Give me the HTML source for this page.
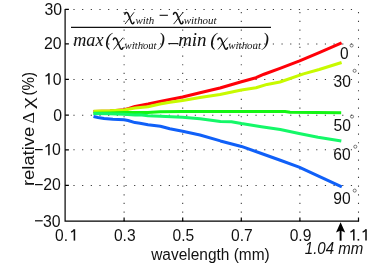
<!DOCTYPE html>
<html><head><meta charset="utf-8"><title>chart</title>
<style>
html,body{margin:0;padding:0;background:#fff;}
body{width:382px;height:267px;overflow:hidden;font-family:"Liberation Sans",sans-serif;}
svg{display:block;will-change:transform;}
text{font-family:"Liberation Sans",sans-serif;fill:#111;}
.t{font-size:16.7px;}
.ser{font-family:"Liberation Serif",serif;font-style:italic;}
</style></head><body>
<svg width="382" height="267" viewBox="0 0 382 267">
<rect width="382" height="267" fill="#fff"/>
<g stroke="#3a3a3a" stroke-width="1.05" stroke-dasharray="1.2 7.47" fill="none"><line x1="124.10" y1="221.40" x2="124.10" y2="9.00"/><line x1="182.70" y1="221.40" x2="182.70" y2="9.00"/><line x1="241.30" y1="221.40" x2="241.30" y2="9.00"/><line x1="299.90" y1="221.40" x2="299.90" y2="9.00"/><line x1="358.50" y1="221.40" x2="358.50" y2="9.00"/><line x1="73.40" y1="9.45" x2="359.50" y2="9.45"/><line x1="73.40" y1="43.90" x2="359.50" y2="43.90"/><line x1="73.40" y1="79.40" x2="359.50" y2="79.40"/><line x1="73.40" y1="115.15" x2="359.50" y2="115.15"/><line x1="73.40" y1="149.80" x2="359.50" y2="149.80"/><line x1="73.40" y1="185.40" x2="359.50" y2="185.40"/></g>
<path d="M93.5,111.5 L110.0,111.0 L124.0,109.8 L129.0,108.5 L135.0,106.4 L148.0,104.1 L160.0,101.6 L170.0,99.5 L182.6,97.1 L200.0,92.8 L220.0,88.0 L241.4,81.7 L256.0,77.7 L264.0,74.2 L280.0,68.4 L299.6,60.9 L319.2,52.6 L341.6,42.8" fill="none" stroke="#ff0008" stroke-width="3.05" stroke-linejoin="round" stroke-linecap="butt"/>
<path d="M93.5,111.2 L110.0,110.8 L124.0,109.9 L135.0,108.0 L148.0,106.8 L160.0,103.9 L170.0,102.3 L182.6,100.4 L200.0,97.6 L220.0,94.6 L241.4,89.9 L256.0,87.8 L267.0,84.4 L280.0,82.0 L303.5,73.9 L319.2,69.5 L341.6,62.5" fill="none" stroke="#c8fa00" stroke-width="3.05" stroke-linejoin="round" stroke-linecap="butt"/>
<path d="M93.5,113.3 L110.0,113.0 L124.0,112.6 L148.0,112.4 L160.0,111.7 L182.0,111.4 L241.0,111.5 L285.0,111.5 L290.0,112.3 L341.2,112.7" fill="none" stroke="#14f514" stroke-width="3.05" stroke-linejoin="round" stroke-linecap="butt"/>
<path d="M93.5,113.6 L110.0,113.8 L124.0,114.3 L135.0,115.0 L140.0,114.8 L148.0,115.8 L160.4,116.3 L182.6,117.2 L200.0,118.8 L220.4,121.5 L231.4,121.7 L241.4,123.6 L261.4,126.7 L280.3,129.4 L299.1,133.5 L318.0,137.3 L341.3,141.0" fill="none" stroke="#14f868" stroke-width="3.05" stroke-linejoin="round" stroke-linecap="butt"/>
<path d="M93.5,116.5 L98.0,117.5 L104.0,118.5 L113.0,119.2 L124.0,119.8 L128.0,120.5 L135.0,122.6 L140.0,123.3 L148.0,124.8 L160.4,126.3 L169.8,128.8 L182.6,131.2 L200.0,135.0 L220.4,140.9 L241.4,146.4 L261.4,153.5 L280.3,160.2 L299.1,167.1 L318.0,175.9 L341.8,186.8" fill="none" stroke="#1060f8" stroke-width="3.05" stroke-linejoin="round" stroke-linecap="butt"/>
<path d="M65.1,9.0 V221.1 H359.1" fill="none" stroke="#000" stroke-width="1.2"/>
<path d="M124.10,221.1 v-3.6 M182.70,221.1 v-3.6 M241.30,221.1 v-3.6 M299.90,221.1 v-3.6 M358.50,221.1 v-3.6 M65.1,9.45 h3.8 M65.1,43.90 h3.8 M65.1,79.40 h3.8 M65.1,115.15 h3.8 M65.1,149.80 h3.8 M65.1,185.40 h3.8" fill="none" stroke="#000" stroke-width="1.2"/>
<text class="t" x="62.0" y="14.9" text-anchor="end" textLength="17.6" lengthAdjust="spacingAndGlyphs">30</text>
<text class="t" x="61.6" y="49.3" text-anchor="end" textLength="17.6" lengthAdjust="spacingAndGlyphs">20</text>
<text class="t" x="61.6" y="84.6" text-anchor="end" textLength="8.8" lengthAdjust="spacingAndGlyphs">0</text><path d="M48.92,84.50 V73.20" stroke="#111" stroke-width="1.55" fill="none"/><path d="M48.80,73.55 Q47.70,75.30 45.50,76.10" stroke="#111" stroke-width="1.25" fill="none"/>
<text class="t" x="62.1" y="120.7" text-anchor="end" textLength="8.8" lengthAdjust="spacingAndGlyphs">0</text>
<text class="t" x="60.9" y="155.3" text-anchor="end" textLength="8.8" lengthAdjust="spacingAndGlyphs">0</text><path d="M48.92,155.20 V143.90" stroke="#111" stroke-width="1.55" fill="none"/><path d="M48.80,144.25 Q47.70,146.00 45.50,146.80" stroke="#111" stroke-width="1.25" fill="none"/><line x1="35" x2="42.7" y1="149.6" y2="149.6" stroke="#111" stroke-width="1.25"/>
<text class="t" x="60.9" y="190.3" text-anchor="end" textLength="17.6" lengthAdjust="spacingAndGlyphs">20</text><line x1="35" x2="42.7" y1="184.6" y2="184.6" stroke="#111" stroke-width="1.25"/>
<text class="t" x="60.6" y="226.5" text-anchor="end" textLength="17.6" lengthAdjust="spacingAndGlyphs">30</text><line x1="35" x2="42.7" y1="220.8" y2="220.8" stroke="#111" stroke-width="1.25"/>
<text class="t" x="113.9" y="240.7" textLength="21.7" lengthAdjust="spacingAndGlyphs">0.3</text>
<text class="t" x="172.5" y="240.7" textLength="21.7" lengthAdjust="spacingAndGlyphs">0.5</text>
<text class="t" x="231.1" y="240.7" textLength="21.7" lengthAdjust="spacingAndGlyphs">0.7</text>
<text class="t" x="289.7" y="240.7" textLength="21.7" lengthAdjust="spacingAndGlyphs">0.9</text>
<text class="t" x="55.1" y="240.7" textLength="13.0" lengthAdjust="spacingAndGlyphs">0.</text><path d="M74.42,240.60 V229.30" stroke="#111" stroke-width="1.55" fill="none"/><path d="M74.30,229.65 Q73.20,231.40 71.00,232.20" stroke="#111" stroke-width="1.25" fill="none"/>
<path d="M353.82,240.60 V229.30" stroke="#111" stroke-width="1.55" fill="none"/><path d="M353.70,229.65 Q352.60,231.40 350.40,232.20" stroke="#111" stroke-width="1.25" fill="none"/><rect x="357.6" y="238.95" width="1.6" height="1.65" fill="#111"/><path d="M366.02,240.60 V229.30" stroke="#111" stroke-width="1.55" fill="none"/><path d="M365.90,229.65 Q364.80,231.40 362.60,232.20" stroke="#111" stroke-width="1.25" fill="none"/>
<text class="t" x="151.2" y="259.5" textLength="118.5" lengthAdjust="spacingAndGlyphs">wavelength (mm)</text>
<g transform="translate(34,0) rotate(-90)" style="font-size:17px"><text x="-186" y="0" textLength="59.2" lengthAdjust="spacingAndGlyphs">relative</text><text x="-123.6" y="0" textLength="11.4" lengthAdjust="spacingAndGlyphs" style="font-family:'Liberation Serif',serif;font-size:16px">Δ</text><text x="-108.8" y="-1.3" textLength="11.4" lengthAdjust="spacingAndGlyphs" style="font-family:'Liberation Serif',serif;font-size:16px">χ</text><text x="-95.6" y="0.4" textLength="23.6" lengthAdjust="spacingAndGlyphs">(%)</text></g>
<text class="t" x="304.8" y="254.2" font-style="italic" style="font-size:16.2px" textLength="58.5" lengthAdjust="spacingAndGlyphs">1.04 mm</text>
<path d="M340.6,240.7 V227" stroke="#000" stroke-width="1.9" fill="none"/><path d="M340.6,222.3 L345.2,232.6 L340.6,230.4 L336.0,232.6 Z" fill="#000"/>
<text class="t" x="340.1" y="59.2" textLength="8.6" lengthAdjust="spacingAndGlyphs">0</text><circle cx="351.6" cy="45.5" r="1.55" fill="none" stroke="#444" stroke-width="0.7"/>
<text class="t" x="333.5" y="86.5" textLength="17.4" lengthAdjust="spacingAndGlyphs">30</text><circle cx="354.6" cy="70.8" r="1.55" fill="none" stroke="#444" stroke-width="0.7"/>
<text class="t" x="333.5" y="130.5" textLength="17.4" lengthAdjust="spacingAndGlyphs">50</text><circle cx="352.0" cy="116.6" r="1.55" fill="none" stroke="#444" stroke-width="0.7"/>
<text class="t" x="333.3" y="159.6" textLength="17.4" lengthAdjust="spacingAndGlyphs">60</text><circle cx="355.3" cy="146.7" r="1.55" fill="none" stroke="#444" stroke-width="0.7"/>
<text class="t" x="333.3" y="203.9" textLength="17.4" lengthAdjust="spacingAndGlyphs">90</text><circle cx="354.7" cy="190.6" r="1.55" fill="none" stroke="#444" stroke-width="0.7"/>
<line x1="71" x2="271" y1="27.3" y2="27.3" stroke="#111" stroke-width="1.3"/>
<path d="M124.89,14.21 C125.17,12.55 127.14,11.73 128.08,13.85 L131.28,22.35 C132.03,24.35 133.44,24.24 133.91,22.35" fill="none" stroke="#111" stroke-width="1.55" stroke-linecap="round" stroke-linejoin="round"/><path d="M133.82,12.55 L125.26,23.76" fill="none" stroke="#111" stroke-width="0.9" stroke-linecap="round"/>
<text class="ser" x="135.5" y="24.2" style="font-size:10.3px" textLength="18.8" lengthAdjust="spacingAndGlyphs">with</text>
<line x1="159.6" x2="167.9" y1="15.3" y2="15.3" stroke="#111" stroke-width="1.1"/>
<path d="M173.50,14.21 C173.80,12.55 175.87,11.73 176.86,13.85 L180.23,22.35 C181.02,24.35 182.51,24.24 183.00,22.35" fill="none" stroke="#111" stroke-width="1.55" stroke-linecap="round" stroke-linejoin="round"/><path d="M182.90,12.55 L173.89,23.76" fill="none" stroke="#111" stroke-width="0.9" stroke-linecap="round"/>
<text class="ser" x="183.8" y="24.2" style="font-size:10.3px" textLength="32.8" lengthAdjust="spacingAndGlyphs">without</text>
<text class="ser" x="73.2" y="45.6" style="font-size:19.5px" textLength="30.3" lengthAdjust="spacingAndGlyphs">max</text>
<text class="ser" x="105.2" y="45.6" style="font-size:19.5px">(</text>
<path d="M113.40,39.61 C113.70,37.95 115.77,37.13 116.76,39.25 L120.13,47.75 C120.92,49.75 122.41,49.64 122.90,47.75" fill="none" stroke="#111" stroke-width="1.55" stroke-linecap="round" stroke-linejoin="round"/><path d="M122.80,37.95 L113.79,49.16" fill="none" stroke="#111" stroke-width="0.9" stroke-linecap="round"/>
<text class="ser" x="124.6" y="49.4" style="font-size:10.3px" textLength="32" lengthAdjust="spacingAndGlyphs">without</text>
<text class="ser" x="158.4" y="45.6" style="font-size:19.5px">)</text>
<line x1="168.3" x2="178.2" y1="43.6" y2="43.6" stroke="#111" stroke-width="1.1"/>
<text class="ser" x="178.2" y="45.6" style="font-size:19.5px" textLength="28.4" lengthAdjust="spacingAndGlyphs">min</text>
<text class="ser" x="210.3" y="45.6" style="font-size:19.5px">(</text>
<path d="M217.90,39.61 C218.20,37.95 220.30,37.13 221.30,39.25 L224.70,47.75 C225.50,49.75 227.00,49.64 227.50,47.75" fill="none" stroke="#111" stroke-width="1.55" stroke-linecap="round" stroke-linejoin="round"/><path d="M227.40,37.95 L218.30,49.16" fill="none" stroke="#111" stroke-width="0.9" stroke-linecap="round"/>
<text class="ser" x="228.3" y="49.4" style="font-size:10.3px" textLength="32.8" lengthAdjust="spacingAndGlyphs">without</text>
<text class="ser" x="262.6" y="45.6" style="font-size:19.5px">)</text>
</svg></body></html>
